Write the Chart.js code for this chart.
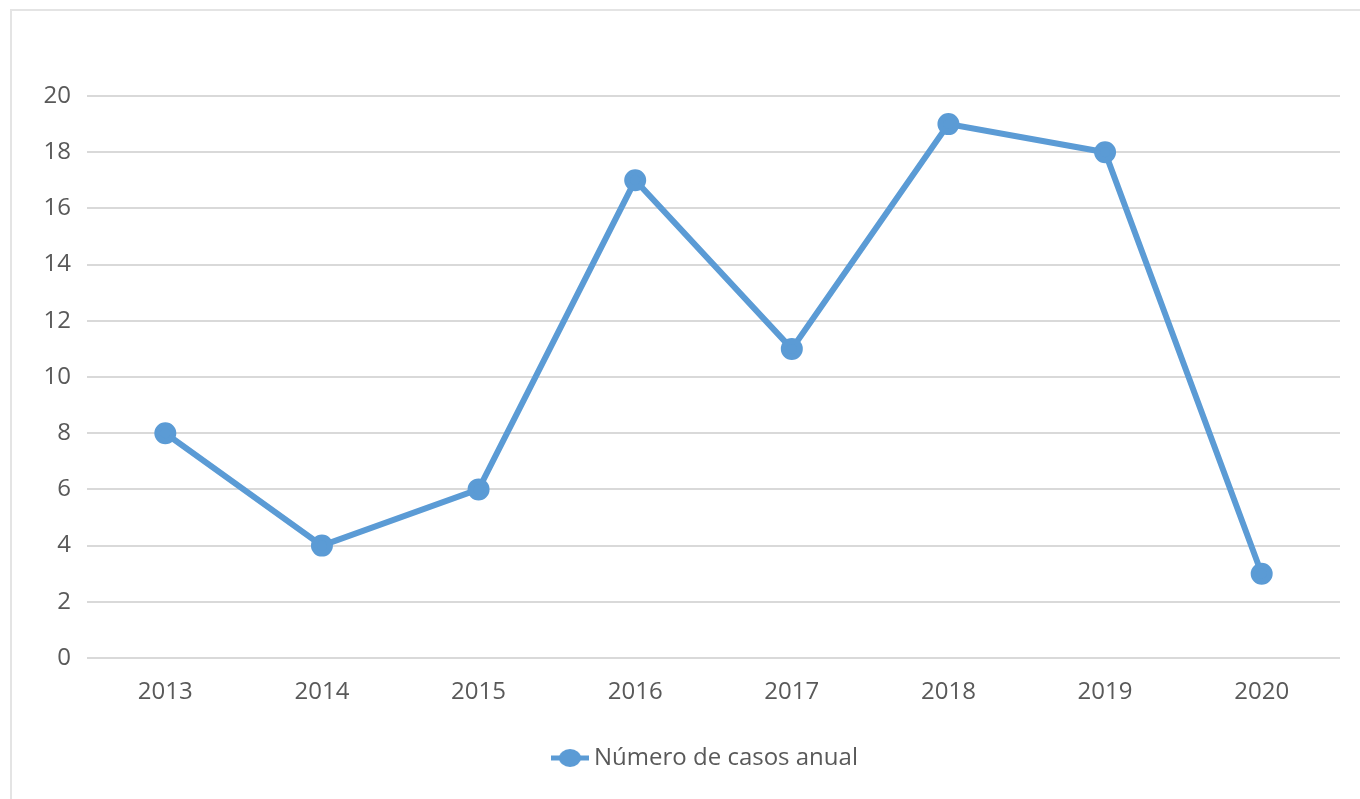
<!DOCTYPE html>
<html>
<head>
<meta charset="utf-8">
<script src="https://cdn.jsdelivr.net/npm/chart.js@4"></script>
<style>
  body { margin: 0; background: #fff; }
  #frame { position: absolute; left: 10px; top: 9px; width: 1400px; height: 850px; border: 2px solid #e4e4e4; }
  #wrap { position: absolute; left: 0; top: 0; width: 1360px; height: 799px; }
</style>
</head>
<body>
<div id="frame"></div>
<div id="wrap"><canvas id="myChart"></canvas></div>
<script>
var anos = ['2013', '2014', '2015', '2016', '2017', '2018', '2019', '2020'];
var casos = [8, 4, 6, 17, 11, 19, 18, 3];
var rotulo = 'Número de casos anual';
var azul = '#5b9bd5';

// marcador da legenda: linha com bolinha no meio (estilo excel)
var marca = document.createElement('canvas');
marca.width = 38; marca.height = 20;
var mc = marca.getContext('2d');
mc.strokeStyle = azul; mc.lineWidth = 5;
mc.beginPath(); mc.moveTo(0, 10); mc.lineTo(38, 10); mc.stroke();
mc.fillStyle = azul;
mc.beginPath(); mc.ellipse(19, 10, 11, 9, 0, 0, Math.PI * 2); mc.fill();

Chart.defaults.font.family = '"Open Sans", sans-serif';
Chart.defaults.font.size = 24;
Chart.defaults.color = '#595959';

// empurra a legenda um pouco pra direita, como no original
var moveLegenda = {
    id: 'moveLegenda',
    afterLayout: function (chart) {
        chart.legend.left += 28;
        chart.legend.right += 28;
    }
};

var ctx = document.getElementById('myChart').getContext('2d');
var chart = new Chart(ctx, {
    type: 'line',
    data: {
        labels: anos,
        datasets: [{
            label: rotulo,
            data: casos,
            borderColor: azul,
            backgroundColor: azul,
            borderWidth: 6,
            pointRadius: 8,
            pointHoverRadius: 8,
            tension: 0
        }]
    },
    options: {
        responsive: true,
        maintainAspectRatio: false,
        animation: false,
        layout: { padding: { left: 20, right: 20, top: 96, bottom: 19 } },
        plugins: {
            tooltip: { enabled: false },
            legend: {
                position: 'bottom',
                labels: {
                    usePointStyle: true,
                    pointStyle: marca,
                    padding: 10
                }
            }
        },
        scales: {
            x: {
                offset: true,
                grid: { display: false, drawTicks: false },
                border: { display: false },
                ticks: { padding: 20 },
                afterFit: function (s) { s.height = 78; }
            },
            y: {
                min: 0,
                max: 20,
                ticks: { stepSize: 2, padding: 16 },
                grid: { color: '#d9d9d9', lineWidth: 2, drawTicks: false },
                border: { display: false },
                afterFit: function (s) { s.width = 67; }
            }
        }
    },
    plugins: [moveLegenda]
});
</script>
</body>
</html>
